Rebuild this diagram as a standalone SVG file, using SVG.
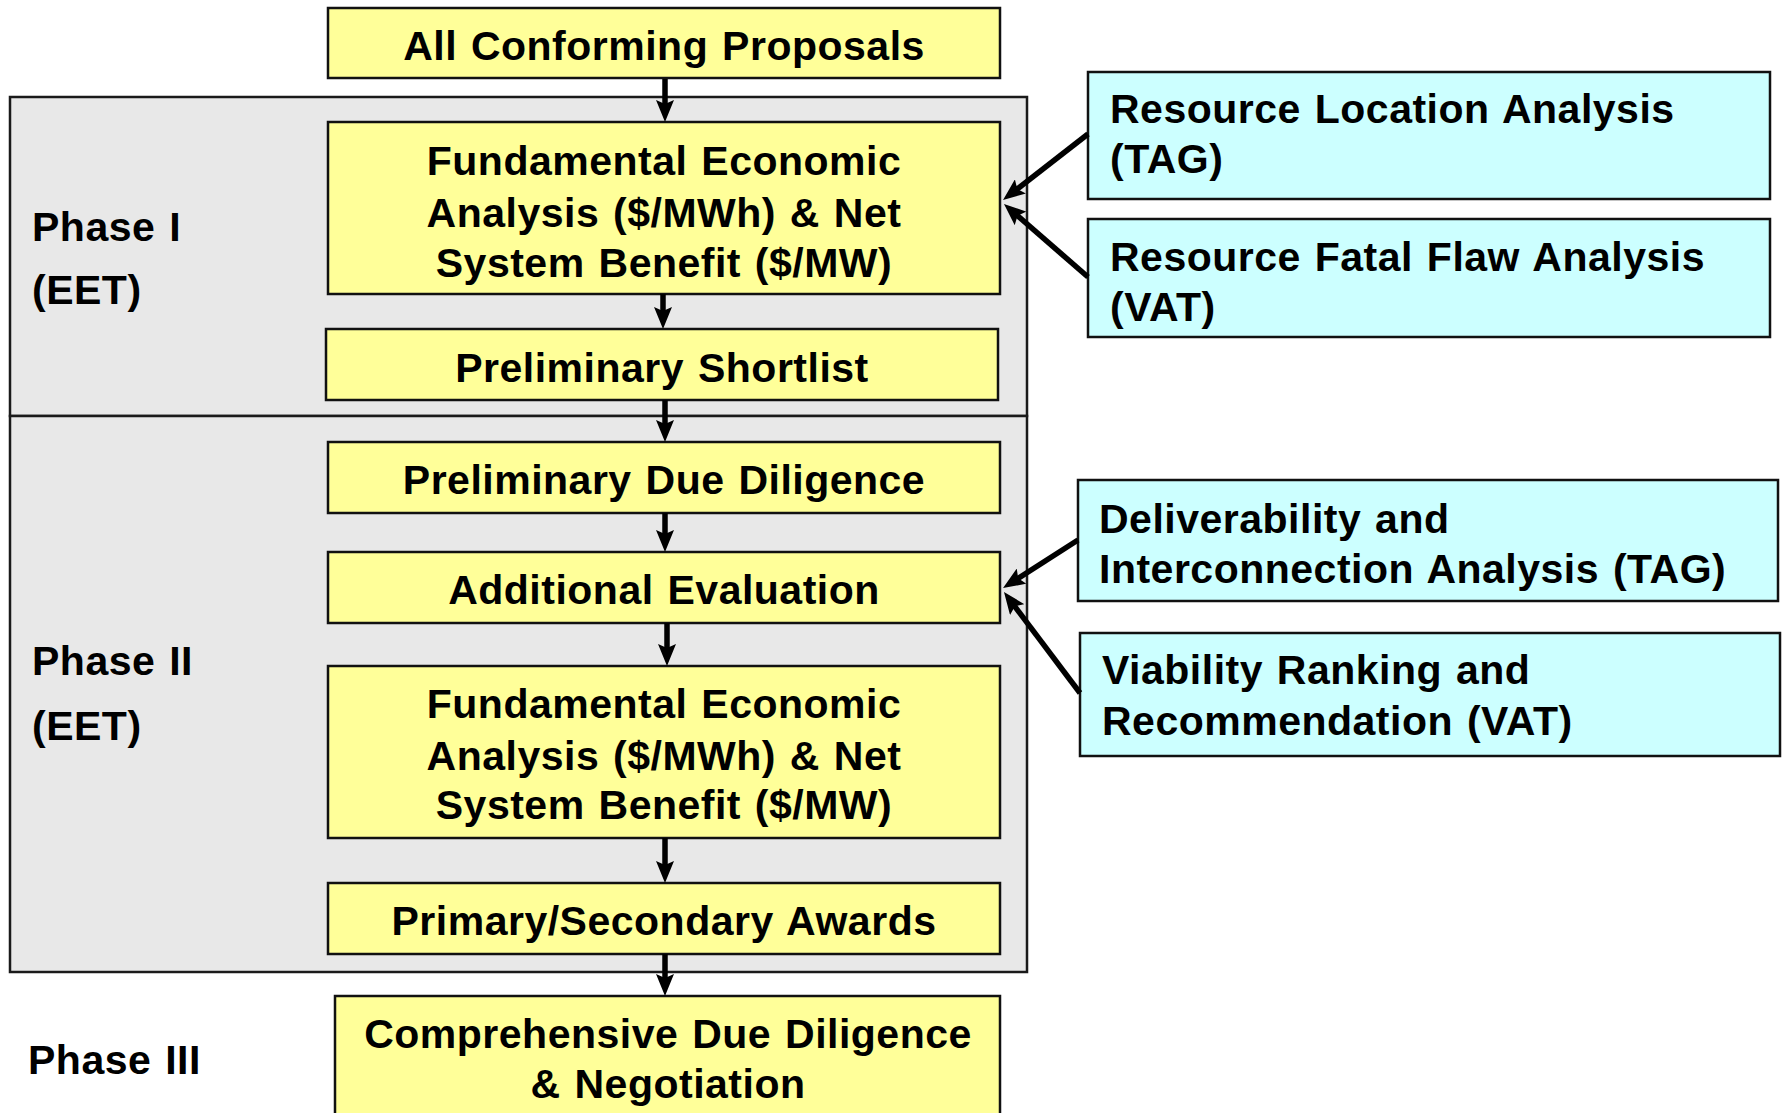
<svg xmlns="http://www.w3.org/2000/svg" width="1785" height="1113" viewBox="0 0 1785 1113">
<style>
  text { font-family: "Liberation Sans", Arial, sans-serif; font-weight: bold; font-size: 41px; fill: #000; word-spacing: 2px; letter-spacing: 0.5px; }
  .c { text-anchor: middle; }
  .phase { fill: #E8E8E8; stroke: #1a1a1a; stroke-width: 2.5; }
  .y { fill: #FFFF99; stroke: #111; stroke-width: 2.5; }
  .b { fill: #CCFFFF; stroke: #111; stroke-width: 2.5; }
  .conn line { stroke: #000; stroke-width: 5.5; marker-end: url(#ah); }
</style>
<defs>
  <marker id="ah" markerUnits="userSpaceOnUse" viewBox="0 0 22 18" refX="9" refY="9" markerWidth="22" markerHeight="18" orient="auto">
    <path d="M0,0 L22,9 L0,18 L4,9 Z" fill="#000"/>
  </marker>
</defs>
<rect width="1785" height="1113" fill="#fff"/>

<g id="phase1">
  <rect class="phase" x="10" y="97" width="1017" height="319"/>
  <text x="32" y="241">Phase I</text>
  <text x="32" y="304">(EET)</text>
</g>
<g id="phase2">
  <rect class="phase" x="10" y="416" width="1017" height="556"/>
  <text x="32" y="675">Phase II</text>
  <text x="32" y="740">(EET)</text>
</g>
<g id="phase3">
  <text x="28" y="1074">Phase III</text>
</g>

<g id="all-conforming">
  <rect class="y" x="328" y="8" width="672" height="70"/>
  <text class="c" x="664" y="60">All Conforming Proposals</text>
</g>
<g id="fundamental1">
  <rect class="y" x="328" y="122" width="672" height="172"/>
  <text class="c" x="664" y="175">Fundamental Economic</text>
  <text class="c" x="664" y="227">Analysis ($/MWh) &amp; Net</text>
  <text class="c" x="664" y="277">System Benefit ($/MW)</text>
</g>
<g id="prelim-shortlist">
  <rect class="y" x="326" y="329" width="672" height="71"/>
  <text class="c" x="662" y="382">Preliminary Shortlist</text>
</g>
<g id="prelim-due-diligence">
  <rect class="y" x="328" y="442" width="672" height="71"/>
  <text class="c" x="664" y="494">Preliminary Due Diligence</text>
</g>
<g id="additional-evaluation">
  <rect class="y" x="328" y="552" width="672" height="71"/>
  <text class="c" x="664" y="604">Additional Evaluation</text>
</g>
<g id="fundamental2">
  <rect class="y" x="328" y="666" width="672" height="172"/>
  <text class="c" x="664" y="718">Fundamental Economic</text>
  <text class="c" x="664" y="770">Analysis ($/MWh) &amp; Net</text>
  <text class="c" x="664" y="819">System Benefit ($/MW)</text>
</g>
<g id="awards">
  <rect class="y" x="328" y="883" width="672" height="71"/>
  <text class="c" x="664" y="935">Primary/Secondary Awards</text>
</g>
<g id="comprehensive">
  <rect class="y" x="335" y="996" width="665" height="130"/>
  <text class="c" x="668" y="1048">Comprehensive Due Diligence</text>
  <text class="c" x="668" y="1098">&amp; Negotiation</text>
</g>

<g id="resource-location">
  <rect class="b" x="1088" y="72" width="682" height="127"/>
  <text x="1110" y="123">Resource Location Analysis</text>
  <text x="1110" y="173">(TAG)</text>
</g>
<g id="resource-fatal-flaw">
  <rect class="b" x="1088" y="219" width="682" height="118"/>
  <text x="1110" y="271">Resource Fatal Flaw Analysis</text>
  <text x="1110" y="321">(VAT)</text>
</g>
<g id="deliverability">
  <rect class="b" x="1078" y="480" width="700" height="121"/>
  <text x="1099" y="533">Deliverability and</text>
  <text x="1099" y="583">Interconnection Analysis (TAG)</text>
</g>
<g id="viability">
  <rect class="b" x="1080" y="633" width="700" height="123"/>
  <text x="1102" y="684">Viability Ranking and</text>
  <text x="1102" y="735">Recommendation (VAT)</text>
</g>

<g id="connectors" class="conn">
  <line x1="665" y1="79" x2="665" y2="109"/>
  <line x1="663" y1="294" x2="663" y2="316"/>
  <line x1="665" y1="400" x2="665" y2="429"/>
  <line x1="665" y1="513" x2="665" y2="539"/>
  <line x1="667" y1="623" x2="667" y2="653"/>
  <line x1="665" y1="838" x2="665" y2="870"/>
  <line x1="665" y1="954" x2="665" y2="983"/>
  <line x1="1088" y1="134" x2="1013.3" y2="192"/>
  <line x1="1088" y1="277" x2="1013.8" y2="212.5"/>
  <line x1="1078" y1="540" x2="1014" y2="581"/>
  <line x1="1080" y1="693" x2="1011.8" y2="602.4"/>
</g>
</svg>
